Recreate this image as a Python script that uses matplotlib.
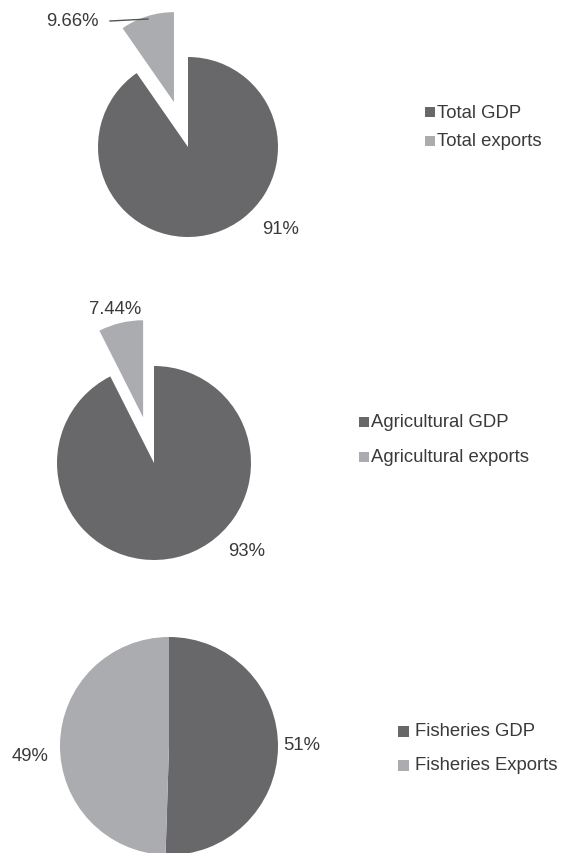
import matplotlib
matplotlib.use("Agg")
import matplotlib.pyplot as plt
from matplotlib.patches import Rectangle

# ---- data ----
total_labels = ["Total GDP", "Total exports"]
total_values = [90.34, 9.66]
total_pct = ["91%", "9.66%"]

agri_labels = ["Agricultural GDP", "Agricultural exports"]
agri_values = [92.56, 7.44]
agri_pct = ["93%", "7.44%"]

fish_labels = ["Fisheries GDP", "Fisheries Exports"]
fish_values = [50.5, 49.5]
fish_pct = ["51%", "49%"]

# ---- style ----
DARK = "#68686b"
LIGHT = "#abacb0"
TXT = "#3a3a3a"
FONT = "Liberation Sans"
FS = 13.3
W, H = 562, 854

plt.rcParams["font.family"] = [FONT, "DejaVu Sans"]

fig = plt.figure(figsize=(W / 100, H / 100), dpi=100)
ax = fig.add_axes([0, 0, 1, 1])


def Y(y):
    return H - y


def draw_pie(values, center, radius, explode_px):
    wedges, _ = ax.pie(values, colors=[DARK, LIGHT], startangle=90,
                       counterclock=False, center=center, radius=radius,
                       explode=[0, explode_px],
                       wedgeprops=dict(linewidth=0))
    return wedges


def draw_legend(labels, x, y0, dy, size=10, gap=2):
    for i, lab in enumerate(labels):
        yy = Y(y0 + i * dy)
        ax.add_patch(Rectangle((x, yy - size / 2), size, size,
                               facecolor=[DARK, LIGHT][i], edgecolor="none"))
        ax.text(x + size + gap, yy, lab, fontsize=FS, color=TXT,
                va="center", ha="left")


# Pie 1
draw_pie(total_values, (188, Y(148)), 90, 47)
ax.text(72, Y(21), total_pct[1], fontsize=FS, color=TXT, ha="center", va="center")
ax.plot([110, 148], [Y(22), Y(20)], color="#555555", lw=1.0)
ax.text(281, Y(229), total_pct[0], fontsize=FS, color=TXT, ha="center", va="center")
draw_legend(total_labels, 425, 113, 29)

# Pie 2
draw_pie(agri_values, (154, Y(464)), 97, 47)
ax.text(115, Y(309), agri_pct[1], fontsize=FS, color=TXT, ha="center", va="center")
ax.text(247, Y(552), agri_pct[0], fontsize=FS, color=TXT, ha="center", va="center")
draw_legend(agri_labels, 359, 423, 35)

# Pie 3
draw_pie(fish_values, (169, Y(747)), 109, 0)
ax.text(30, Y(757), fish_pct[1], fontsize=FS, color=TXT, ha="center", va="center")
ax.text(302, Y(746), fish_pct[0], fontsize=FS, color=TXT, ha="center", va="center")
draw_legend(fish_labels, 398, 732, 34, size=11, gap=6)

ax.set_xlim(0, W)
ax.set_ylim(0, H)
ax.set_aspect("equal")
ax.axis("off")

fig.savefig("out.png", dpi=100, facecolor="white")
